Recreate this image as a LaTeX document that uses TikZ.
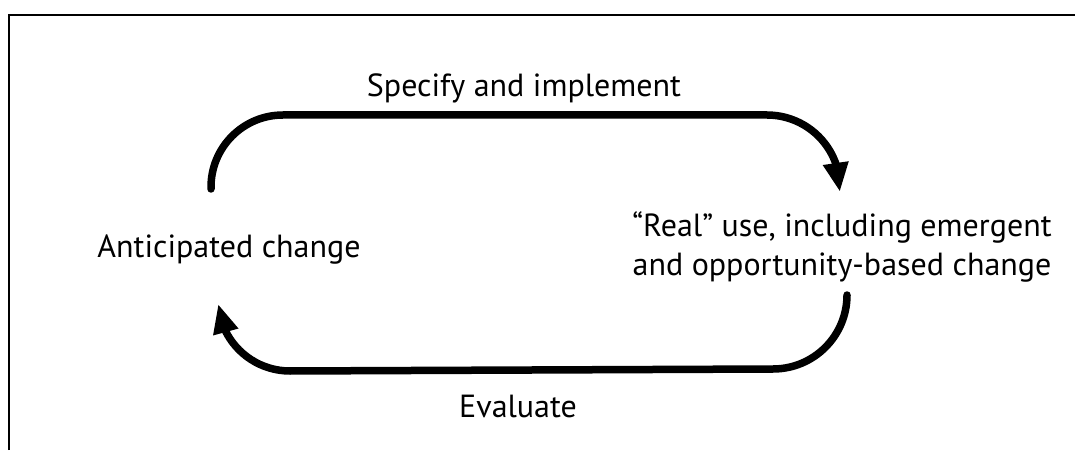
\documentclass[tikz,border=0pt]{standalone}
\usepackage{fontspec}
\setmainfont{PT Sans}
\usetikzlibrary{arrows.meta,bending}
\begin{document}
\begin{tikzpicture}[x=1pt,y=1pt,
  lbl/.style={inner sep=0pt,outer sep=0pt,anchor=base,font=\fontsize{32}{39}\selectfont},
  flow/.style={line width=7.5pt,line cap=round,-{Triangle[length=29pt,width=24pt,flex]}},
  frame/.style={line width=2pt}]
\useasboundingbox (0,0) rectangle (1075,450);
% frame (top and left edges)
\coordinate (fbl) at (9,0);
\coordinate (ftl) at (9,435);
\coordinate (ftr) at (1075,435);
\draw[frame] (fbl) -- (ftl) -- (ftr);
% labels
\node[lbl] (spec) at (524,353) {Specify and implement};
\node[lbl] (antic) at (229,192) {Anticipated change};
\node[lbl,align=center] (real) at (842,175) {“Real” use, including emergent\\and opportunity-based change};
\node[lbl] (eval) at (518,33) {Evaluate};
% connector points
\coordinate (s1) at (211,261);
\coordinate (s2) at (847,155);
% cycle arrows
\draw[flow] (s1) -- (211,263) arc[start angle=180,end angle=90,radius=72] -- (767,335) arc[start angle=90,end angle=-3,radius=73];
\draw[flow] (s2) arc[start angle=0,end angle=-90,radius=74] -- (290,79) arc[start angle=270,end angle=184,radius=72];
\end{tikzpicture}
\end{document}
